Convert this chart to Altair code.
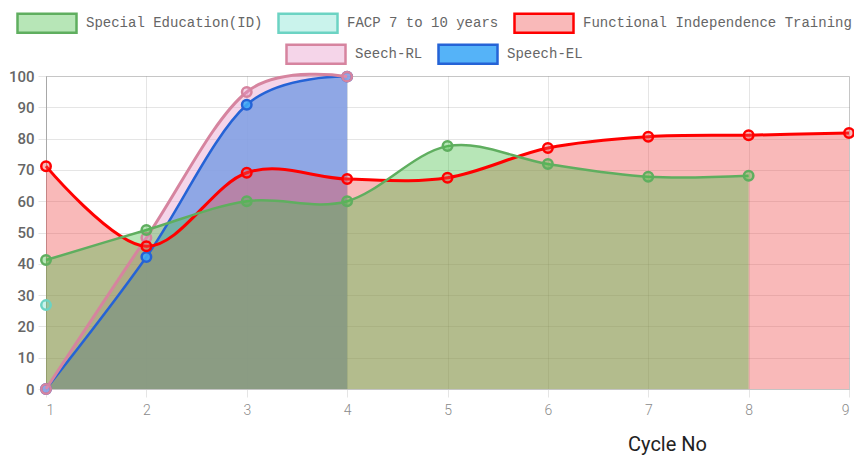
import altair as alt
import pandas as pd

# ---- data ----
cycles = [1, 2, 3, 4, 5, 6, 7, 8, 9]
series_names = [
    "Special Education(ID)",
    "FACP 7 to 10 years",
    "Functional Independence Training",
    "Seech-RL",
    "Speech-EL",
]
special_ed = [41.2, 50.8, 60.0, 60.0, 77.6, 71.9, 67.8, 68.1]
facp = [26.8]
functional = [71.2, 45.6, 69.1, 67.1, 67.5, 77.0, 80.6, 81.1, 81.8]
seech_rl = [0.0, 48.3, 94.9, 99.8]
speech_el = [0.0, 42.2, 90.8, 99.8]

values_by_series = {
    "Special Education(ID)": special_ed,
    "FACP 7 to 10 years": facp,
    "Functional Independence Training": functional,
    "Seech-RL": seech_rl,
    "Speech-EL": speech_el,
}

# ---- styles ----
fill_colors = {
    "Special Education(ID)": "rgba(75,192,75,0.4)",
    "FACP 7 to 10 years": "rgba(102,221,200,0.35)",
    "Functional Independence Training": "rgba(240,80,80,0.4)",
    "Seech-RL": "rgba(230,150,200,0.4)",
    "Speech-EL": "rgba(62,169,247,0.88)",
}
line_colors = {
    "Special Education(ID)": "#5fae5f",
    "FACP 7 to 10 years": "#6cd3c3",
    "Functional Independence Training": "#ff0000",
    "Seech-RL": "#d6849f",
    "Speech-EL": "#2563d6",
}
line_widths = {
    "Special Education(ID)": 2.5,
    "FACP 7 to 10 years": 2.5,
    "Functional Independence Training": 3,
    "Seech-RL": 3,
    "Speech-EL": 2.5,
}

rows = []
for name in series_names:
    for c, v in zip(cycles, values_by_series[name]):
        rows.append({"series": name, "cycle": c, "value": v})
df = pd.DataFrame(rows)

xscale = alt.Scale(domain=[1, 9], nice=False, zero=False)
yscale = alt.Scale(domain=[0, 100], nice=False)

x_axis = alt.Axis(
    values=cycles, format="d", grid=True, gridColor="rgba(0,0,0,0.1)",
    tickSize=8, tickColor="rgba(0,0,0,0.1)", domainColor="#c4c4c4",
    labelFont="Roboto", labelFontSize=14, labelColor="#8a8a8a", labelFontWeight=300,
    labelPadding=6, title="Cycle No", titleFont="Roboto", titleFontSize=20,
    titleFontWeight="normal", titleColor="#222222", titleX=621, titleY=55,
    titleAlign="center", titleBaseline="middle",
)
y_axis = alt.Axis(
    values=list(range(0, 101, 10)), grid=True, gridColor="rgba(0,0,0,0.1)",
    tickSize=8, tickColor="rgba(0,0,0,0.1)", domainColor="#a8a8a8",
    labelFont="Roboto", labelFontSize=15, labelColor="#666666", labelFontWeight=500,
    labelPadding=4, title=None,
)

X = alt.X("cycle:Q", scale=xscale, axis=x_axis)
Y = alt.Y("value:Q", scale=yscale, axis=y_axis)

base = alt.Chart(df)

box_path = "M-1,-0.32H1V0.32H-1Z"
box_size = 3481


def legend_layer(names, lx, ly):
    leg = alt.Legend(
        orient="none", legendX=lx, legendY=ly, direction="horizontal", title=None,
        symbolType=box_path, symbolSize=box_size, symbolStrokeWidth=2.5,
        symbolOpacity=1, labelFont="Liberation Mono", labelFontSize=14,
        labelColor="#666666", labelOffset=8, columnPadding=10, padding=0,
        labelLimit=600,
    )
    return base.transform_filter("false").mark_point(
        filled=True, shape=box_path, size=box_size, strokeWidth=2.5, opacity=1
    ).encode(
        fill=alt.Fill("series:N", scale=alt.Scale(domain=names, range=[fill_colors[n] for n in names]), legend=leg),
        stroke=alt.Stroke("series:N", scale=alt.Scale(domain=names, range=[line_colors[n] for n in names]), legend=leg),
    )


legA = legend_layer(series_names[:3], -30, -84)
legB = legend_layer(series_names[3:], 239, -53)

# Areas first (last dataset at the bottom), then lines and points on top
area_layers = []
line_layers = []
for name in reversed(series_names):
    sub = base.transform_filter(alt.datum.series == name)
    n = len(values_by_series[name])
    if n > 1:
        area_layers.append(
            sub.mark_area(interpolate="cardinal", fill=fill_colors[name], opacity=1, strokeWidth=0).encode(x=X, y=Y)
        )
        line_layers.append(
            sub.mark_line(interpolate="cardinal", stroke=line_colors[name], strokeWidth=line_widths[name]).encode(x=X, y=Y)
        )
    line_layers.append(
        sub.mark_point(filled=True, fill=fill_colors[name], stroke=line_colors[name],
                       strokeWidth=2.5, size=90, opacity=1).encode(x=X, y=Y)
    )

chart = alt.layer(legB, legA, *area_layers, *line_layers).resolve_scale(
    fill="independent", stroke="independent"
).properties(
    width=803, height=313,
    autosize=alt.AutoSizeParams(type="none"),
    padding={"left": 38, "top": 68, "right": 5, "bottom": 68},
).configure_view(stroke=None).configure(background="white")

chart.save("out.html", embed_options={"renderer": "svg", "actions": False})
